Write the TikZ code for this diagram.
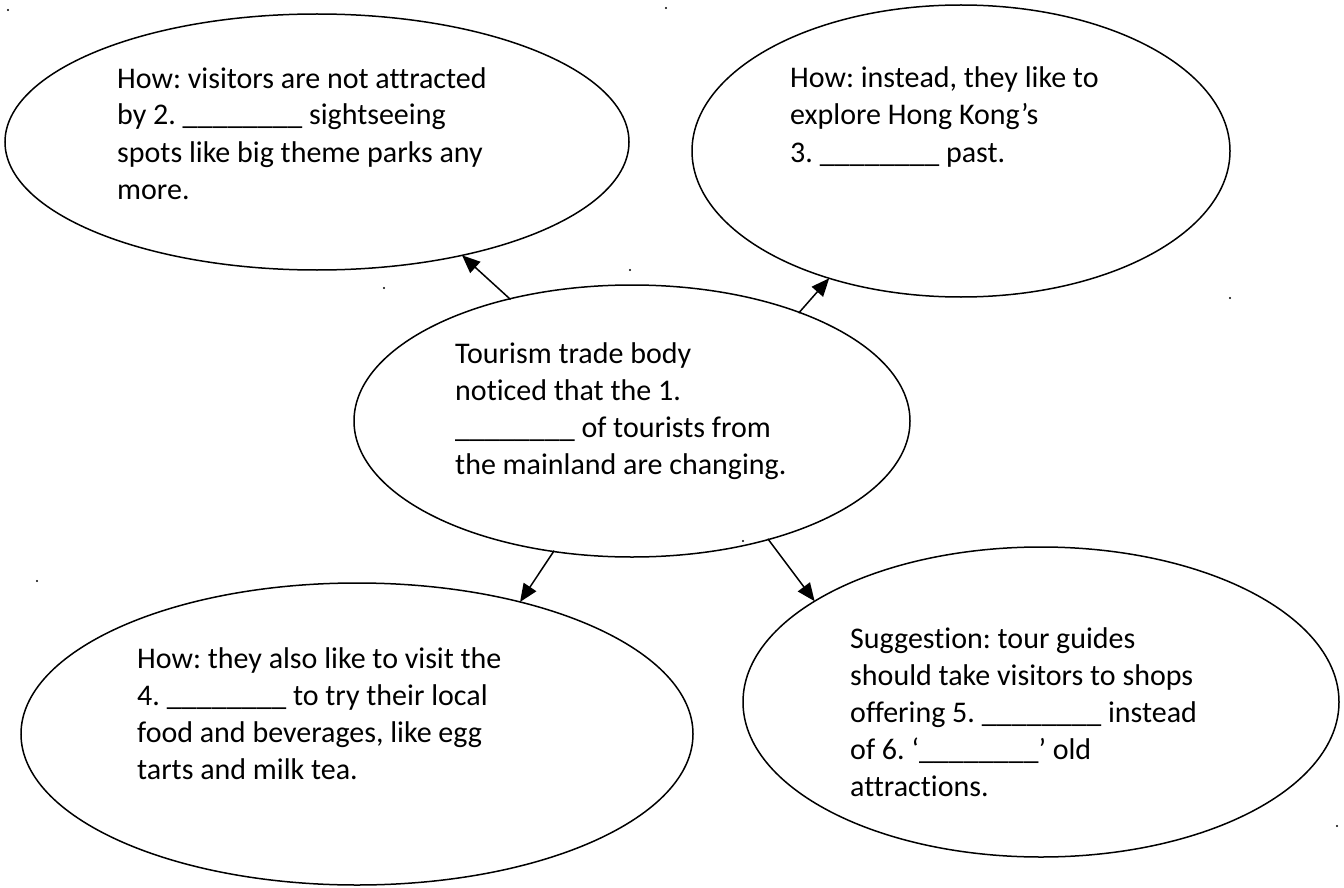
\documentclass[tikz,border=0pt]{standalone}
\usepackage{fontspec}
\setmainfont{Carlito}[Ligatures=NoCommon]
\usetikzlibrary{shapes.geometric,arrows.meta}
\tikzset{
  bubble/.style={draw=black, line width=1.5pt, ellipse, inner sep=0pt, outer sep=0pt},
  label/.style={anchor=base west, align=left, inner sep=0pt, font=\fontsize{30}{37}\selectfont\frenchspacing},
  link/.style={line width=1.5pt, -{Triangle[length=18pt,width=15pt]}, shorten <=-1pt},
  speck/.style={fill=black, draw=none}
}
\begin{document}
\begin{tikzpicture}[x=1pt,y=-1pt]
\useasboundingbox (0,0) rectangle (1344,888);
% ellipses
\node[bubble, minimum width=624pt, minimum height=256pt] (e1) at (317,142) {};
\node[bubble, minimum width=538pt, minimum height=292pt] (e2) at (961,151) {};
\node[bubble, minimum width=556pt, minimum height=272pt] (e3) at (632,421) {};
\node[bubble, minimum width=672pt, minimum height=302pt] (e4) at (357,734) {};
\node[bubble, minimum width=596pt, minimum height=310pt] (e5) at (1041,702) {};
% texts (anchored at the baseline of the last line)
\node[label] (t1) at (117,199) {How: visitors are not attracted\\by 2. \_\_\_\_\_\_\_\_ sightseeing\\spots like big theme parks any\\more.};
\node[label] (t2) at (790,162) {How: instead, they like to\\explore Hong Kong’s\\3. \_\_\_\_\_\_\_\_ past.};
\node[label] (t3) at (455,474) {Tourism trade body\\noticed that the 1.\\\_\_\_\_\_\_\_\_ of tourists from\\the mainland are changing.};
\node[label] (t4) at (137,779) {How: they also like to visit the\\4. \_\_\_\_\_\_\_\_ to try their local\\food and beverages, like egg\\tarts and milk tea.};
\node[label] (t5) at (850,796) {Suggestion: tour guides\\should take visitors to shops\\offering 5. \_\_\_\_\_\_\_\_ instead\\of 6. ‘\_\_\_\_\_\_\_\_’ old\\attractions.};
% connectors
\draw[link] (e3.135) -- (e1.-38);
\draw[link] (e3.33) -- (e2.224.5);
\draw[link] (e3.239) -- (e4.39);
\draw[link] (e3.319) -- (e5.156);
% stray specks
\foreach \p in {(8,10),(666,8),(630,270),(384,288),(1230,298),(37,581),(743,541),(1337,826)}
  \fill[speck] \p circle (1.2pt);
\end{tikzpicture}
\end{document}
